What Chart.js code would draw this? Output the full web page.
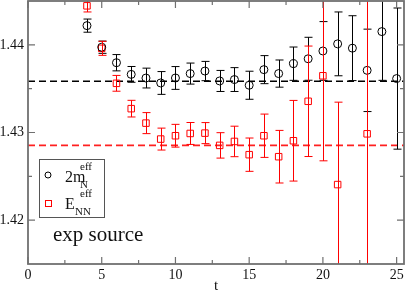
<!DOCTYPE html>
<html>
<head>
<meta charset="utf-8">
<script src="https://cdn.jsdelivr.net/npm/chart.js@4/dist/chart.umd.min.js"></script>
<style>
  html, body { margin: 0; padding: 0; background: #fff; }
</style>
</head>
<body>
<canvas id="chart" width="407" height="292"></canvas>
<script>
// effective mass 2m_N
const tN = [4, 5, 6, 7, 8, 9, 10, 11, 12, 13, 14, 15, 16, 17, 18, 19, 20, 21, 22, 23, 24, 25];
const mN = [1.44219, 1.43973, 1.43796, 1.43663, 1.43621, 1.43565, 1.43622, 1.43672, 1.43701, 1.43588, 1.43604,
            1.43539, 1.43717, 1.43672, 1.43785, 1.43841, 1.43930, 1.44011, 1.43962, 1.43709, 1.44151, 1.43615];
const mNErr = [0.00075, 0.0007, 0.00093, 0.0009, 0.00113, 0.0013, 0.0013, 0.0012, 0.0011, 0.0012, 0.00136,
               0.0016, 0.0016, 0.00155, 0.0019, 0.00245, 0.00335, 0.00364, 0.0037, 0.0047, 0.00556, 0.00805];

// effective energy E_NN
const tNN = [4, 5, 6, 7, 8, 9, 10, 11, 12, 13, 14, 15, 16, 17, 18, 19, 20, 21, 23];
const eNN = [1.44445, 1.4396, 1.43561, 1.43272, 1.43107, 1.42925, 1.42963, 1.42989, 1.42993, 1.42853,
             1.42898, 1.42747, 1.42963, 1.42724, 1.42906, 1.43356, 1.43647, 1.42406, 1.42985];
const eNNErr = [0.0007, 0.0008, 0.0009, 0.00095, 0.0012, 0.00125, 0.0013, 0.00125, 0.0012, 0.00145,
                0.00174, 0.0019, 0.00247, 0.003, 0.0046, 0.0063, 0.0097, 0.0094, 0.017];

// plateau fits
const fitN = 1.43585;
const fitNN = 1.42853;

const xTickLabels = [0, 5, 10, 15, 20, 25];
const xMinorTicks = [2.5, 7.5, 12.5, 17.5, 22.5];
const yTickLabels = [1.42, 1.43, 1.44];
const yMinorTicks = [1.425, 1.435];

const SERIF = "'Liberation Serif', 'DejaVu Serif', serif";

const errorBars = {
  id: "errorBars",
  afterDatasetsDraw(chart) {
    const { ctx, chartArea, scales } = chart;
    const sets = [
      { t: tN, v: mN, e: mNErr, color: "#000" },
      { t: tNN, v: eNN, e: eNNErr, color: "#ff0000" }
    ];
    ctx.save();
    ctx.beginPath();
    ctx.rect(chartArea.left, chartArea.top, chartArea.right - chartArea.left, chartArea.bottom - chartArea.top);
    ctx.clip();
    ctx.lineWidth = 1;
    sets.forEach(s => {
      ctx.strokeStyle = s.color;
      s.t.forEach((t, i) => {
        const x = Math.round(scales.x.getPixelForValue(t)) + 0.5;
        const yHi = scales.y.getPixelForValue(s.v[i] + s.e[i]);
        const yLo = scales.y.getPixelForValue(s.v[i] - s.e[i]);
        ctx.beginPath();
        ctx.moveTo(x, yHi);
        ctx.lineTo(x, yLo);
        ctx.moveTo(x - 4, yHi);
        ctx.lineTo(x + 4, yHi);
        ctx.moveTo(x - 4, yLo);
        ctx.lineTo(x + 4, yLo);
        ctx.stroke();
      });
    });
    ctx.restore();
  }
};

const frame = {
  id: "frame",
  afterDraw(chart) {
    const { ctx, chartArea: a, scales } = chart;
    ctx.save();
    ctx.strokeStyle = "#707070";
    ctx.lineWidth = 1.8;
    ctx.strokeRect(a.left, a.top, a.right - a.left, a.bottom - a.top);
    ctx.lineWidth = 1.2;
    const tickX = (vals, len) => vals.forEach(v => {
      const x = scales.x.getPixelForValue(v);
      ctx.beginPath();
      ctx.moveTo(x, a.bottom); ctx.lineTo(x, a.bottom - len);
      ctx.moveTo(x, a.top); ctx.lineTo(x, a.top + len);
      ctx.stroke();
    });
    const tickY = (vals, len) => vals.forEach(v => {
      const y = scales.y.getPixelForValue(v);
      ctx.beginPath();
      ctx.moveTo(a.left, y); ctx.lineTo(a.left + len, y);
      ctx.moveTo(a.right, y); ctx.lineTo(a.right - len, y);
      ctx.stroke();
    });
    tickX(xTickLabels, 7);
    tickX(xMinorTicks, 4);
    tickY(yTickLabels, 7);
    tickY(yMinorTicks, 4);

    // x axis title
    ctx.fillStyle = "#111";
    ctx.font = "15px " + SERIF;
    ctx.textAlign = "center";
    ctx.textBaseline = "alphabetic";
    ctx.fillText("t", (a.left + a.right) / 2, 290);

    // legend box
    const bx = 39.5, by = 159.5, bw = 65, bh = 58;
    ctx.fillStyle = "#fff";
    ctx.fillRect(bx, by, bw, bh);
    ctx.strokeStyle = "#555";
    ctx.lineWidth = 1;
    ctx.strokeRect(bx, by, bw, bh);

    ctx.strokeStyle = "#000";
    ctx.beginPath();
    ctx.arc(48, 175, 3, 0, Math.PI * 2);
    ctx.stroke();
    ctx.strokeStyle = "#ff0000";
    ctx.strokeRect(45.5, 200.5, 6, 6);

    ctx.fillStyle = "#111";
    ctx.textAlign = "left";
    ctx.font = "16px " + SERIF;
    ctx.fillText("2m", 65, 182);
    ctx.fillText("E", 65, 209);
    ctx.font = "11px " + SERIF;
    ctx.fillText("N", 80, 188);
    ctx.fillText("eff", 80, 170);
    ctx.fillText("NN", 75, 215);
    ctx.fillText("eff", 80, 197);

    ctx.font = "21px " + SERIF;
    ctx.fillText("exp source", 53, 241);
    ctx.restore();
  }
};

new Chart(document.getElementById("chart"), {
  data: {
    datasets: [
      {
        type: "scatter",
        label: "2m_N^eff",
        data: tN.map((t, i) => ({ x: t, y: mN[i] })),
        pointStyle: "circle",
        pointRadius: 4,
        borderColor: "#000",
        backgroundColor: "rgba(0,0,0,0)",
        borderWidth: 1
      },
      {
        type: "scatter",
        label: "E_NN^eff",
        data: tNN.map((t, i) => ({ x: t, y: eNN[i] })),
        pointStyle: "rect",
        pointRadius: 4.6,
        borderColor: "#ff0000",
        backgroundColor: "rgba(0,0,0,0)",
        borderWidth: 1
      },
      {
        type: "line",
        data: [{ x: 0, y: fitN }, { x: 25.5, y: fitN }],
        borderColor: "#000",
        borderDash: [7, 4],
        borderWidth: 1.6,
        pointRadius: 0
      },
      {
        type: "line",
        data: [{ x: 0, y: fitNN }, { x: 25.5, y: fitNN }],
        borderColor: "#ff2020",
        borderDash: [7, 4],
        borderWidth: 1.6,
        pointRadius: 0
      }
    ]
  },
  options: {
    responsive: false,
    animation: false,
    devicePixelRatio: 1,
    layout: { autoPadding: false, padding: { top: 1, right: 3, left: 0, bottom: 0 } },
    plugins: {
      legend: { display: false },
      tooltip: { enabled: false }
    },
    scales: {
      x: {
        type: "linear",
        min: 0,
        max: 25.5,
        grid: { display: false, drawTicks: false },
        border: { display: false },
        afterBuildTicks: s => { s.ticks = xTickLabels.map(v => ({ value: v })); },
        afterFit: s => { s.height = 28; s.paddingLeft = 0; s.paddingRight = 0; },
        ticks: {
          padding: 3,
          maxRotation: 0,
          autoSkip: false,
          color: "#111",
          font: { family: SERIF, size: 14 }
        }
      },
      y: {
        type: "linear",
        min: 1.415,
        max: 1.445,
        grid: { display: false, drawTicks: false },
        border: { display: false },
        afterBuildTicks: s => { s.ticks = yTickLabels.map(v => ({ value: v })); },
        afterFit: s => { s.width = 28; s.paddingTop = 0; s.paddingBottom = 0; },
        ticks: {
          padding: 4,
          autoSkip: false,
          color: "#111",
          font: { family: SERIF, size: 14 },
          callback: v => v.toFixed(2)
        }
      }
    }
  },
  plugins: [errorBars, frame]
});
</script>
</body>
</html>
